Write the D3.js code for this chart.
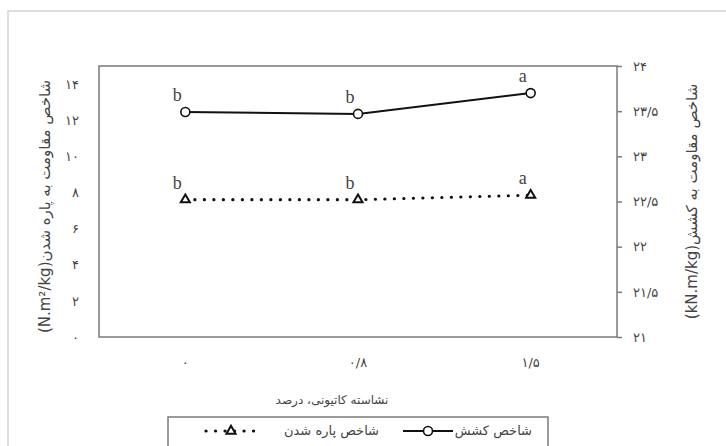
<!DOCTYPE html>
<html>
<head>
<meta charset="utf-8">
<script src="https://cdn.jsdelivr.net/npm/d3@7"></script>
<style>
  body { margin: 0; background: #fff; }
  text { font-family: "DejaVu Sans", sans-serif; }
</style>
</head>
<body>
<div id="graph"></div>
<script>
// categories: cationic starch %
const categories = ["0", "0.8", "1.5"]
// tensile index (right axis), tear index (left axis)
const tensile = [23.49, 23.47, 23.70]
const tear = [7.6, 7.6, 7.85]
const tensileLetters = ["b", "b", "a"]
const tearLetters = ["b", "b", "a"]
const leftTicks = [0, 2, 4, 6, 8, 10, 12, 14]
const rightTicks = [21, 21.5, 22, 22.5, 23, 23.5, 24]

const W = 726, H = 446
const plot = { left: 99, right: 617, top: 66, bottom: 337 }

// persian digits, "/" as decimal mark
const fa = v => String(v).replace(/\d/g, d => "۰۱۲۳۴۵۶۷۸۹"[d]).replace(".", "/")

const svg = d3.select("#graph").append("svg")
  .attr("width", W)
  .attr("height", H)

// outer frame
svg.append("rect")
  .attr("x", 8).attr("y", 11)
  .attr("width", W).attr("height", H)
  .attr("fill", "none")
  .attr("stroke", "#d4d4d4")
  .attr("stroke-width", 1.5)

const x = d3.scaleBand().domain(categories).range([plot.left, plot.right])
const cx = d => x(d) + x.bandwidth() / 2
const yL = d3.scaleLinear().domain([0, 15]).range([plot.bottom, plot.top])
const yR = d3.scaleLinear().domain([21, 24]).range([plot.bottom, plot.top])

// plot area border
svg.append("rect")
  .attr("x", plot.left).attr("y", plot.top)
  .attr("width", plot.right - plot.left)
  .attr("height", plot.bottom - plot.top)
  .attr("fill", "none")
  .attr("stroke", "#7a7a7a")
  .attr("stroke-width", 1.5)

// left axis
const gl = svg.append("g")
  .attr("transform", "translate(" + plot.left + ",0)")
  .call(d3.axisLeft(yL).tickValues(leftTicks).tickSize(0).tickPadding(20).tickFormat(fa))
gl.select(".domain").remove()

// right axis
const gr = svg.append("g")
  .attr("transform", "translate(" + plot.right + ",0)")
  .call(d3.axisRight(yR).tickValues(rightTicks).tickSize(5).tickPadding(11).tickFormat(fa))
gr.select(".domain").remove()
gr.selectAll("line").attr("stroke", "#7a7a7a").attr("stroke-width", 1.5)

// bottom axis
const gb = svg.append("g")
  .attr("transform", "translate(0," + plot.bottom + ")")
  .call(d3.axisBottom(x).tickSize(0).tickPadding(21).tickFormat(fa))
gb.select(".domain").remove()

svg.selectAll(".tick text")
  .attr("fill", "#444")
  .style("font-size", "13px")

// axis titles
svg.append("text")
  .attr("transform", "translate(45," + (plot.top + plot.bottom + 10) / 2 + ") rotate(-90)")
  .attr("text-anchor", "middle")
  .attr("dominant-baseline", "middle")
  .attr("direction", "rtl")
  .attr("fill", "#444")
  .style("font-size", "15px")
  .text("شاخص مقاومت به پاره شدن(N.m²/kg)")

svg.append("text")
  .attr("transform", "translate(692," + (plot.top + plot.bottom) / 2 + ") rotate(-90)")
  .attr("text-anchor", "middle")
  .attr("dominant-baseline", "middle")
  .attr("direction", "rtl")
  .attr("fill", "#444")
  .style("font-size", "15px")
  .text("شاخص مقاومت به کشش(kN.m/kg)")

svg.append("text")
  .attr("x", 332).attr("y", 400)
  .attr("text-anchor", "middle")
  .attr("dominant-baseline", "middle")
  .attr("direction", "rtl")
  .attr("fill", "#444")
  .style("font-size", "12px")
  .text("نشاسته کاتیونی، درصد")

// tear series, dotted + triangles
const tearLine = d3.line().x((d, i) => cx(categories[i])).y(d => yL(d))
svg.append("path")
  .datum(tear)
  .attr("d", tearLine)
  .attr("fill", "none")
  .attr("stroke", "#111")
  .attr("stroke-width", 3.2)
  .attr("stroke-linecap", "round")
  .attr("stroke-dasharray", "0.1 9.4")

const tri = d3.symbol().type(d3.symbolTriangle).size(36)
svg.selectAll(".tri")
  .data(tear)
  .enter().append("path")
  .attr("class", "tri")
  .attr("d", tri)
  .attr("transform", (d, i) => "translate(" + cx(categories[i]) + "," + yL(d) + ")")
  .attr("fill", "#fff")
  .attr("stroke", "#111")
  .attr("stroke-width", 2)

// tensile series, solid + circles
const tensLine = d3.line().x((d, i) => cx(categories[i])).y(d => yR(d))
svg.append("path")
  .datum(tensile)
  .attr("d", tensLine)
  .attr("fill", "none")
  .attr("stroke", "#111")
  .attr("stroke-width", 2)

svg.selectAll(".circ")
  .data(tensile)
  .enter().append("circle")
  .attr("class", "circ")
  .attr("cx", (d, i) => cx(categories[i]))
  .attr("cy", d => yR(d))
  .attr("r", 4.5)
  .attr("fill", "#fff")
  .attr("stroke", "#111")
  .attr("stroke-width", 1.6)

// significance letters
svg.selectAll(".lt")
  .data(tensile)
  .enter().append("text")
  .attr("x", (d, i) => cx(categories[i]) - 8)
  .attr("y", d => yR(d) - 11)
  .attr("text-anchor", "middle")
  .attr("fill", "#444")
  .style("font-family", "Liberation Serif, serif")
  .style("font-size", "18px")
  .text((d, i) => tensileLetters[i])

svg.selectAll(".lb")
  .data(tear)
  .enter().append("text")
  .attr("x", (d, i) => cx(categories[i]) - 8)
  .attr("y", d => yL(d) - 11)
  .attr("text-anchor", "middle")
  .attr("fill", "#444")
  .style("font-family", "Liberation Serif, serif")
  .style("font-size", "18px")
  .text((d, i) => tearLetters[i])

// legend
const lg = svg.append("g")
lg.append("rect")
  .attr("x", 168).attr("y", 417)
  .attr("width", 380).attr("height", 40)
  .attr("fill", "#fff")
  .attr("stroke", "#7a7a7a")
  .attr("stroke-width", 1.5)

lg.append("text")
  .attr("x", 532).attr("y", 431)
  .attr("text-anchor", "end")
  .attr("dominant-baseline", "middle")
  .attr("fill", "#444")
  .style("font-size", "13px")
  .text("شاخص کشش")
lg.append("line")
  .attr("x1", 403).attr("x2", 453).attr("y1", 431).attr("y2", 431)
  .attr("stroke", "#111").attr("stroke-width", 2)
lg.append("circle")
  .attr("cx", 428).attr("cy", 431).attr("r", 4.5)
  .attr("fill", "#fff").attr("stroke", "#111").attr("stroke-width", 1.6)

lg.append("text")
  .attr("x", 379).attr("y", 431)
  .attr("text-anchor", "end")
  .attr("dominant-baseline", "middle")
  .attr("fill", "#444")
  .style("font-size", "13px")
  .text("شاخص پاره شدن")
lg.append("line")
  .attr("x1", 206).attr("x2", 256).attr("y1", 431).attr("y2", 431)
  .attr("stroke", "#111").attr("stroke-width", 3.2)
  .attr("stroke-linecap", "round")
  .attr("stroke-dasharray", "0.1 9.4")
lg.append("path")
  .attr("d", tri)
  .attr("transform", "translate(231,431)")
  .attr("fill", "#fff").attr("stroke", "#111").attr("stroke-width", 2)
</script>
</body>
</html>
